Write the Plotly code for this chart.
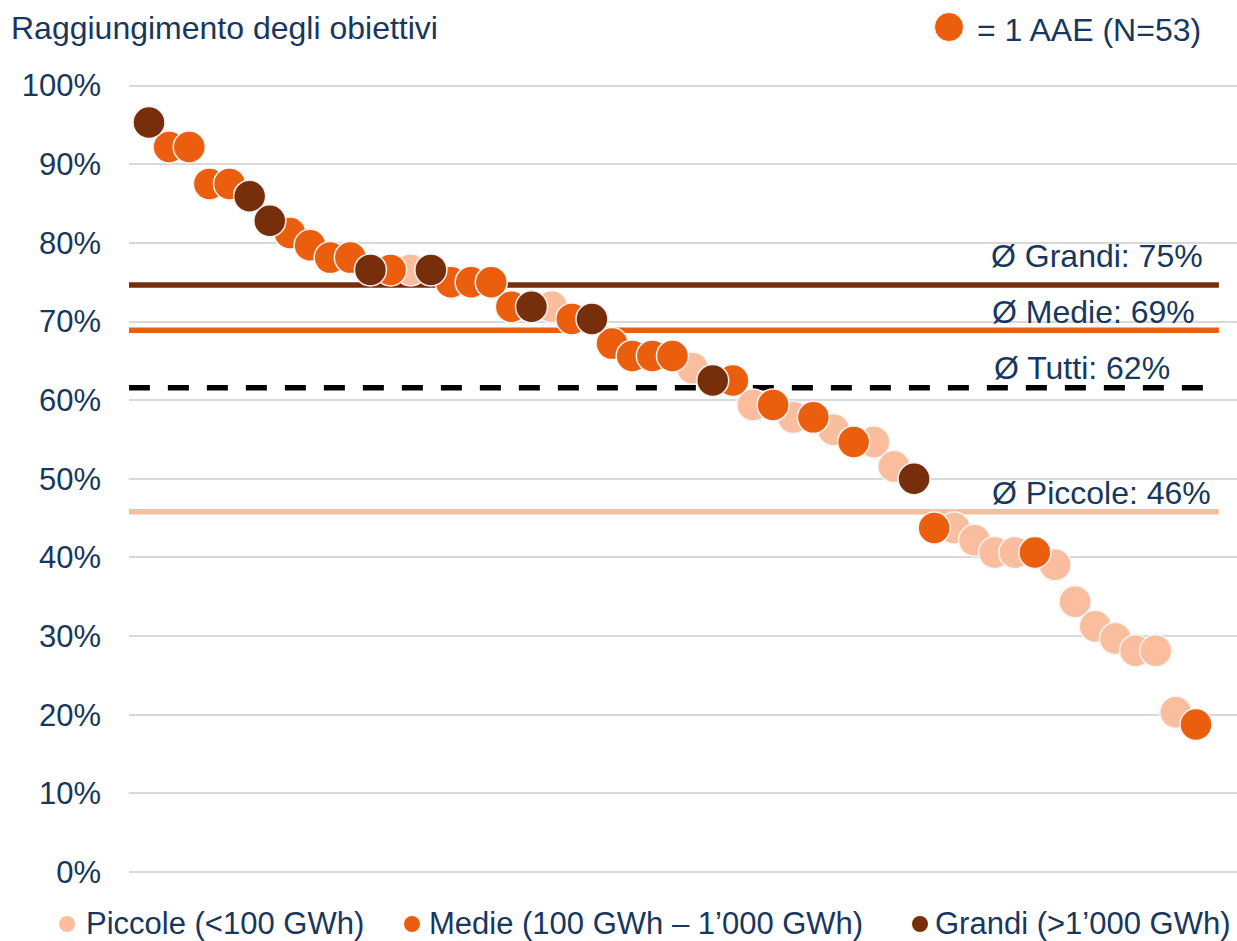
import plotly.graph_objects as go

# Goal attainment per utility (AAE), sorted from highest to lowest, in percent
attainment = [
    95.3125, 92.1875, 92.1875, 87.5, 87.5, 85.9375, 82.8125, 81.25, 79.6875, 78.125,
    78.125, 76.5625, 76.5625, 76.5625, 76.5625, 75.0, 75.0, 75.0, 71.875, 71.875,
    71.875, 70.3125, 70.3125, 67.1875, 65.625, 65.625, 65.625, 64.0625, 62.5, 62.5,
    59.375, 59.375, 57.8125, 57.8125, 56.25, 54.6875, 54.6875, 51.5625, 50.0, 43.75,
    43.75, 42.1875, 40.625, 40.625, 40.625, 39.0625, 34.375, 31.25, 29.6875, 28.125,
    28.125, 20.3125, 18.75,
]
# Size class of each utility: P = piccole, M = medie, G = grandi
size_class = [
    "G", "M", "M", "M", "M", "G", "G", "M", "M", "M",
    "M", "G", "M", "P", "G", "M", "M", "M", "M", "G",
    "P", "M", "G", "M", "M", "M", "M", "P", "G", "M",
    "P", "M", "P", "M", "P", "M", "P", "P", "G", "M",
    "P", "P", "P", "P", "M", "P", "P", "P", "P", "P",
    "P", "P", "M",
]

class_keys = ["P", "M", "G"]
class_names = ["Piccole (<100 GWh)", "Medie (100 GWh – 1’000 GWh)", "Grandi (>1’000 GWh)"]
class_short = ["Piccole", "Medie", "Grandi"]
class_colors = ["#FABE9E", "#EA5E0E", "#762F0A"]

y_ticks = list(range(0, 101, 10))

NAVY = "#17375E"
FONT = "Liberation Sans, Arial, sans-serif"
TXT = 32

# Plot area in pixels
L, T, B = 129, 84, 69
PW, PH = 1237 - L, 941 - T - B

rank = list(range(1, len(attainment) + 1))

fig = go.Figure()
for key, name, color in zip(class_keys, class_names, class_colors):
    xs = [r for r, c in zip(rank, size_class) if c == key]
    ys = [v for v, c in zip(attainment, size_class) if c == key]
    fig.add_trace(go.Scatter(
        x=xs, y=ys, mode="markers", name=name, showlegend=False,
        marker=dict(size=32, color=color, line=dict(color="#F4F4F4", width=1.5)),
        cliponaxis=False,
    ))

def mean(vals):
    return sum(vals) / len(vals)

averages = {k: mean([v for v, c in zip(attainment, size_class) if c == k]) for k in class_keys}
avg_all = mean(attainment)

X_END = 54.14
label_x = {"G": 1205, "M": 1197, "P": 1213}
label_shift = {"G": 29, "M": 18, "P": 19}

def px_to_paper_x(px):
    return (px - L) / PW

def px_to_paper_y(py):
    return (941 - B - py) / PH

for key, short, color in zip(class_keys, class_short, class_colors):
    avg = averages[key]
    fig.add_shape(type="line", xref="x", yref="y", x0=0, x1=X_END, y0=avg, y1=avg,
                  line=dict(color=color, width=5.5), layer="between")
    fig.add_annotation(xref="paper", yref="y", x=px_to_paper_x(label_x[key]), y=avg,
                       xanchor="right", yanchor="middle", yshift=label_shift[key],
                       text=f"Ø {short}: {round(avg):.0f}%", showarrow=False,
                       font=dict(size=TXT, color=NAVY, family=FONT))

fig.add_shape(type="line", xref="x", yref="y", x0=0, x1=X_END, y0=avg_all, y1=avg_all,
              line=dict(color="black", width=5.5, dash="21px,18px"), layer="between")
fig.add_annotation(xref="paper", yref="y", x=px_to_paper_x(1172), y=avg_all,
                   xanchor="right", yanchor="middle", yshift=20,
                   text=f"Ø Tutti: {round(avg_all):.0f}%", showarrow=False,
                   font=dict(size=TXT, color=NAVY, family=FONT))

def dot(cx, cy, r, color, outline="#F4F4F4", ow=1):
    fig.add_shape(type="circle", xref="paper", yref="paper",
                  xsizemode="pixel", ysizemode="pixel",
                  xanchor=px_to_paper_x(cx), yanchor=px_to_paper_y(cy),
                  x0=-r, x1=r, y0=-r, y1=r,
                  fillcolor=color, line=dict(color=outline, width=ow))

def label(px, py, text, anchor="left", size=TXT):
    fig.add_annotation(xref="paper", yref="paper", x=px_to_paper_x(px), y=px_to_paper_y(py),
                       xanchor=anchor, yanchor="middle", text=text, showarrow=False,
                       font=dict(size=size, color=NAVY, family=FONT))

# Title and unit key
label(9, 28, "Raggiungimento degli obiettivi")
dot(949, 27, 14.5, class_colors[1])
label(975, 30, f"= 1 AAE (N={len(attainment)})")

# Size-class key along the bottom
legend_dot_x = [67, 412, 920]
legend_text_x = [84, 427, 933]
for name, color, dx, tx in zip(class_names, class_colors, legend_dot_x, legend_text_x):
    dot(dx, 924, 8, color, outline=color, ow=0)
    label(tx, 923, name, size=31)

fig.update_layout(
    width=1237, height=941,
    margin=dict(l=L, r=0, t=T, b=B, autoexpand=False),
    paper_bgcolor="white", plot_bgcolor="white",
    font=dict(family=FONT, color=NAVY, size=TXT),
    showlegend=False,
    xaxis=dict(range=[0.007, 55.04], showgrid=False, zeroline=False, showline=False,
               showticklabels=False, ticks=""),
    yaxis=dict(range=[0, 100.2], tickvals=y_ticks, ticktext=[f"{t}%" for t in y_ticks],
               showgrid=True, gridcolor="#D9D9D9", gridwidth=2,
               zeroline=True, zerolinecolor="#D9D9D9", zerolinewidth=2,
               showline=False, ticks="", ticklabelstandoff=27,
               tickfont=dict(size=31, color=NAVY, family=FONT)),
)

fig.write_html("out.html")
